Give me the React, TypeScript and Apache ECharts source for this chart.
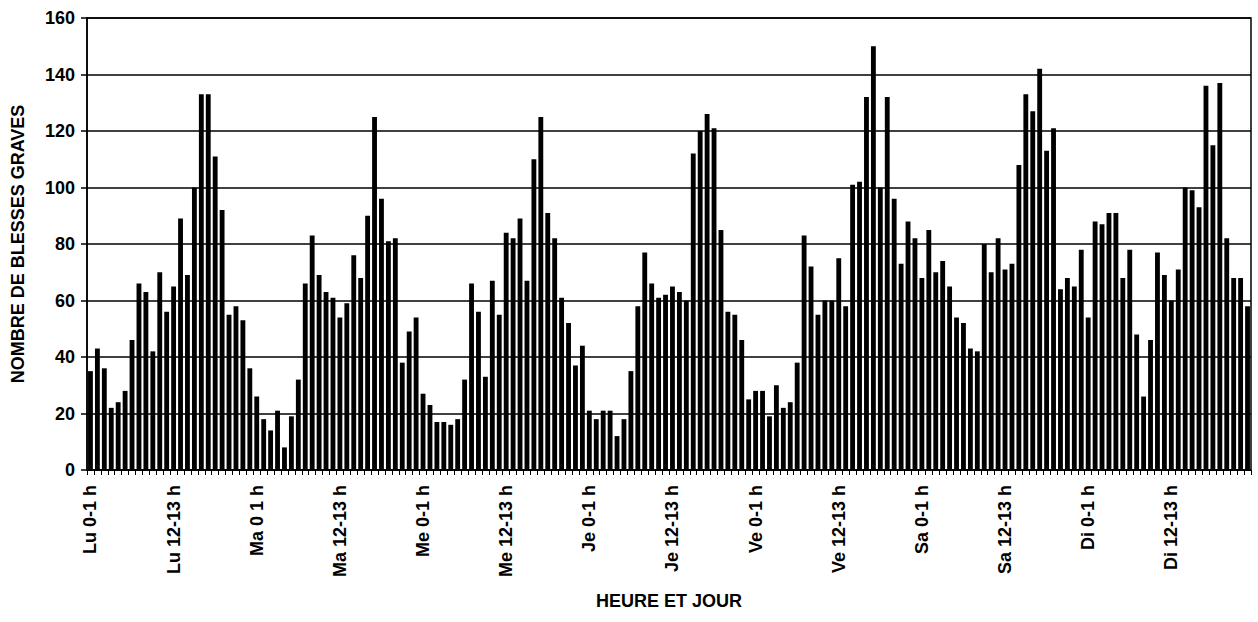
import React, { useEffect, useRef } from "react";
import * as echarts from "echarts";

const days = ["Lu", "Ma", "Me", "Je", "Ve", "Sa", "Di"];

const tickLabels = [
  "Lu 0-1 h", "Lu 12-13 h",
  "Ma 0 1 h", "Ma 12-13 h",
  "Me 0-1 h", "Me 12-13 h",
  "Je 0-1 h", "Je 12-13 h",
  "Ve 0-1 h", "Ve 12-13 h",
  "Sa 0-1 h", "Sa 12-13 h",
  "Di 0-1 h", "Di 12-13 h",
];

const lundi = [35, 43, 36, 22, 24, 28, 46, 66, 63, 42, 70, 56, 65, 89, 69, 100, 133, 133, 111, 92, 55, 58, 53, 36];
const mardi = [26, 18, 14, 21, 8, 19, 32, 66, 83, 69, 63, 61, 54, 59, 76, 68, 90, 125, 96, 81, 82, 38, 49, 54];
const mercredi = [27, 23, 17, 17, 16, 18, 32, 66, 56, 33, 67, 55, 84, 82, 89, 67, 110, 125, 91, 82, 61, 52, 37, 44];
const jeudi = [21, 18, 21, 21, 12, 18, 35, 58, 77, 66, 61, 62, 65, 63, 60, 112, 120, 126, 121, 85, 56, 55, 46, 25];
const vendredi = [28, 28, 19, 30, 22, 24, 38, 83, 72, 55, 60, 60, 75, 58, 101, 102, 132, 150, 100, 132, 96, 73, 88, 82];
const samedi = [68, 85, 70, 74, 65, 54, 52, 43, 42, 80, 70, 82, 71, 73, 108, 133, 127, 142, 113, 121, 64, 68, 65, 78];
const dimanche = [54, 88, 87, 91, 91, 68, 78, 48, 26, 46, 77, 69, 60, 71, 100, 99, 93, 136, 115, 137, 82, 68, 68, 58];

const dayValues = [lundi, mardi, mercredi, jeudi, vendredi, samedi, dimanche];

const yTicks = [0, 20, 40, 60, 80, 100, 120, 140, 160];

const FONT = "'Liberation Sans', Arial, sans-serif";

export default function App() {
  const ref = useRef<HTMLDivElement>(null);

  useEffect(() => {
    if (!ref.current) return;
    const chart = echarts.init(ref.current, null, { renderer: "svg" });

    const categories: string[] = [];
    const values: number[] = [];
    days.forEach((d, di) => {
      dayValues[di].forEach((v, h) => {
        const idx = di * 24 + h;
        const name = idx % 12 === 0 ? tickLabels[idx / 12] : `${d} ${h}-${h + 1} h`;
        categories.push(name);
        values.push(v);
      });
    });

    chart.setOption({
      animation: false,
      backgroundColor: "#ffffff",
      grid: {
        left: 87,
        right: 7,
        top: 18,
        bottom: 152,
        show: true,
        borderColor: "#000",
        borderWidth: 1.5,
      },
      xAxis: {
        type: "category",
        data: categories,
        name: "HEURE ET JOUR",
        nameLocation: "middle",
        nameGap: 122,
        nameTextStyle: { fontFamily: FONT, fontWeight: "bold", fontSize: 18, color: "#000" },
        axisLine: { lineStyle: { color: "#000", width: 1.5 } },
        axisTick: { show: true, interval: 0, length: 5, lineStyle: { color: "#000", width: 1 } },
        axisLabel: {
          interval: 11,
          rotate: 90,
          margin: 15,
          fontFamily: FONT,
          fontWeight: "bold",
          fontSize: 18,
          color: "#000",
        },
        splitLine: { show: false },
      },
      yAxis: {
        type: "value",
        min: yTicks[0],
        max: yTicks[yTicks.length - 1],
        interval: 20,
        name: "NOMBRE DE BLESSES GRAVES",
        nameLocation: "middle",
        nameGap: 60,
        nameTextStyle: { fontFamily: FONT, fontWeight: "bold", fontSize: 18, color: "#000" },
        axisLine: { show: true, lineStyle: { color: "#000", width: 1.5 } },
        axisTick: { show: true, length: 6, lineStyle: { color: "#000", width: 1.5 } },
        axisLabel: {
          margin: 12,
          fontFamily: FONT,
          fontWeight: "bold",
          fontSize: 18,
          color: "#000",
        },
        splitLine: { show: true, lineStyle: { color: "#000", width: 1.5 } },
      },
      series: [
        {
          type: "bar",
          data: values,
          barCategoryGap: "30%",
          itemStyle: { color: "#000" },
        },
      ],
    });

    return () => chart.dispose();
  }, []);

  return (
    <div
      ref={ref}
      style={{ position: "fixed", left: 0, top: 0, width: 1258, height: 622, background: "#fff" }}
    />
  );
}
